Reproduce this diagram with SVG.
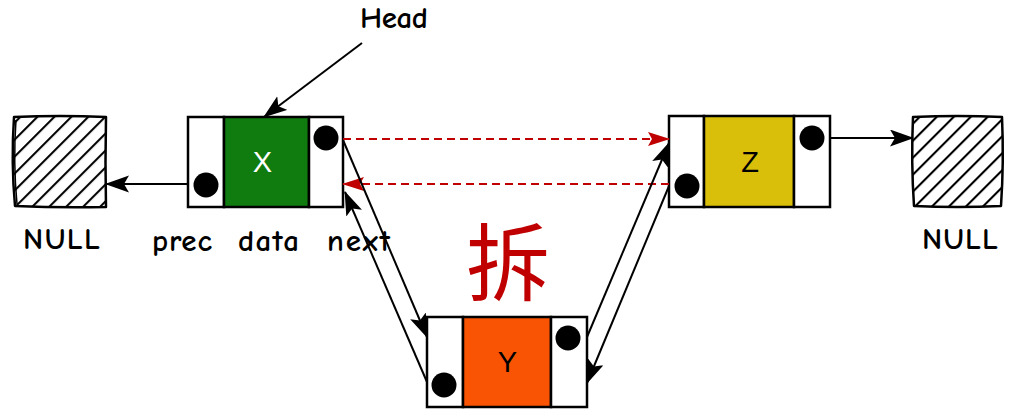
<svg xmlns="http://www.w3.org/2000/svg" width="1012" height="418" viewBox="0 0 1012 418">
<style>
  .cell{fill:#ffffff;stroke:#000;stroke-width:2.5}
  .box{stroke:#000;stroke-width:2.5}
  .dot{fill:#000}
  .lbl{font-family:"Comic Sans MS","Comic Neue","Liberation Sans",sans-serif;font-size:31px;font-weight:bold;fill:#000}
  .val{font-family:"Liberation Sans",Arial,sans-serif;font-size:29px;text-anchor:middle}
  .conn{fill:none;stroke:#000;stroke-width:2}
  .dash{fill:none;stroke:#c00000;stroke-width:2;stroke-dasharray:8 5}
  .null{fill:url(#hatch);stroke:#000;stroke-width:2.5;stroke-linejoin:round}
</style>
<defs>
  <pattern id="hatch" patternUnits="userSpaceOnUse" width="12" height="12" patternTransform="rotate(45)">
    <rect width="12" height="12" fill="#fff"/>
    <line x1="1" y1="0" x2="1" y2="12" stroke="#000" stroke-width="2.2"/>
  </pattern>
  <marker id="ah" markerUnits="userSpaceOnUse" markerWidth="24" markerHeight="18" refX="23" refY="8.5" orient="auto" viewBox="0 0 24 18">
    <path d="M0,0 L24,8.5 L0,17 L5,8.5 z" fill="#000"/>
  </marker>
  <marker id="ahr" markerUnits="userSpaceOnUse" markerWidth="22" markerHeight="14" refX="21" refY="7" orient="auto" viewBox="0 0 22 14">
    <path d="M0,0 L22,7 L0,14 L4,7 z" fill="#c00000"/>
  </marker>
</defs>
<rect width="1012" height="418" fill="#ffffff"/>

<g id="null-left">
  <path class="null" d="M14,117 Q60,115 106,117 Q105,162 106,207 Q60,208 15,206 Q11,162 14,117 z"/>
  <path d="M16,120 Q13,162 17,204" fill="none" stroke="#000" stroke-width="1.5"/>
  <text class="lbl" x="23" y="249" textLength="77">NULL</text>
</g>

<g id="null-right">
  <path class="null" d="M913,117 Q958,115 1002,117 Q1004,162 1001,206 Q957,208 914,206 Q911,162 913,117 z"/>
  <text class="lbl" x="922" y="249" textLength="76">NULL</text>
</g>

<g id="node-x">
  <rect class="cell" x="188" y="117" width="36" height="90"/>
  <rect class="box" x="224" y="117" width="85" height="90" fill="#107c10"/>
  <rect class="cell" x="309" y="117" width="34" height="90"/>
  <circle class="dot" cx="206" cy="185" r="12.5"/>
  <circle class="dot" cx="326" cy="138" r="12.5"/>
  <text class="val" x="262.5" y="172" fill="#ffffff">X</text>
  <text class="lbl" x="152" y="251" textLength="60">prec</text>
  <text class="lbl" x="238" y="251" textLength="61">data</text>
  <text class="lbl" x="327" y="251" textLength="63">next</text>
</g>

<g id="node-y">
  <rect class="cell" x="427" y="317" width="36" height="90"/>
  <rect class="box" x="463" y="317" width="88" height="90" fill="#f95304"/>
  <rect class="cell" x="551" y="317" width="36" height="90"/>
  <circle class="dot" cx="444" cy="385" r="12.5"/>
  <circle class="dot" cx="568" cy="338" r="12.5"/>
  <text class="val" x="507.5" y="372" fill="#000">Y</text>
</g>

<g id="node-z">
  <rect class="cell" x="669" y="116" width="35" height="91"/>
  <rect class="box" x="704" y="116" width="90" height="91" fill="#d9be0a"/>
  <rect class="cell" x="794" y="116" width="36" height="91"/>
  <circle class="dot" cx="687" cy="186" r="12.5"/>
  <circle class="dot" cx="812" cy="138" r="12.5"/>
  <text class="val" x="750" y="172" fill="#000">Z</text>
</g>

<g id="head-label">
  <text class="lbl" x="360" y="28" textLength="68">Head</text>
</g>

<g id="split-label">
  <text x="508" y="294" text-anchor="middle" font-family="'Noto Sans CJK SC','Noto Sans CJK JP',sans-serif" font-size="84" fill="#c00000">拆</text>
</g>

<g id="connectors">
  <line class="conn" x1="362" y1="43" x2="264" y2="117" marker-end="url(#ah)"/>
  <line class="conn" x1="188" y1="184" x2="106" y2="184" marker-end="url(#ah)"/>
  <line class="conn" x1="830" y1="138" x2="913" y2="138" marker-end="url(#ah)"/>
  <line class="dash" x1="343" y1="139" x2="669" y2="139" marker-end="url(#ahr)"/>
  <line class="dash" x1="669" y1="184" x2="343" y2="184" marker-end="url(#ahr)"/>
  <line class="conn" x1="343" y1="140" x2="427" y2="337" marker-end="url(#ah)"/>
  <line class="conn" x1="427" y1="382" x2="345" y2="192" marker-end="url(#ah)"/>
  <line class="conn" x1="587" y1="337" x2="669" y2="143" marker-end="url(#ah)"/>
  <line class="conn" x1="669" y1="186" x2="587" y2="383" marker-end="url(#ah)"/>
</g>
</svg>
